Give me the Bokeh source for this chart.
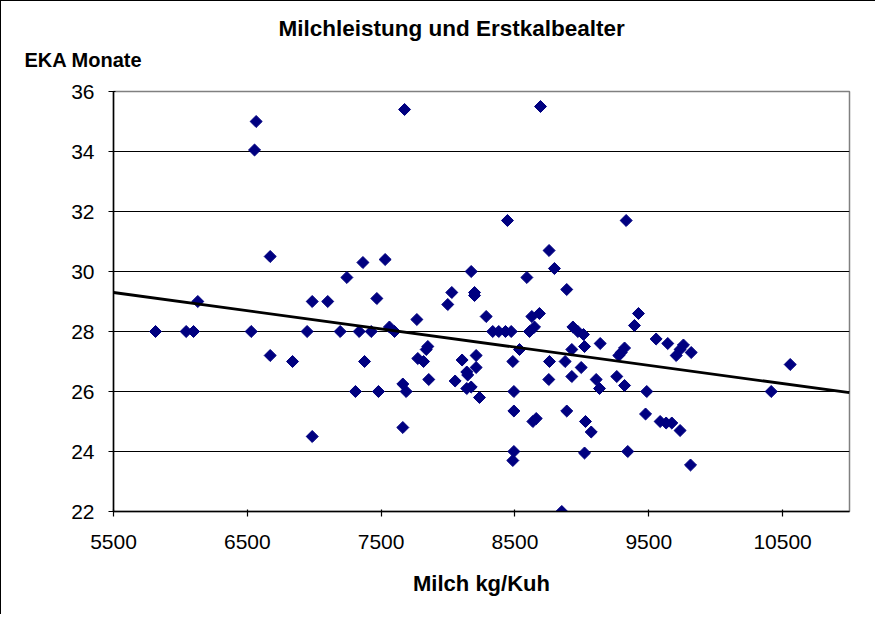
import numpy as np
from bokeh.plotting import figure
from bokeh.models import Range1d, Title, FixedTicker, ColumnDataSource
from bokeh.embed import file_html
from bokeh.resources import INLINE

# Milk yield (kg/cow) and age at first calving (months)
milch = [6566, 6554, 6671, 7244, 7364, 7675, 8691, 8444, 7530, 8173,
         8589, 8755, 8795, 8887, 9331, 6130, 5814, 6043, 6098, 6529,
         6947, 7194, 7336, 7426, 6671, 6838, 6985, 7101, 7376, 7308,
         6985, 7468, 7480, 7562, 7600, 7662, 7662, 7687, 7767, 7774,
         7817, 7837, 7849, 7856, 7998, 8028, 8053, 8105, 8140, 8147,
         8140, 8173, 8198, 8198, 8210, 8210, 8235, 8285, 8334, 8379,
         8429, 8472, 8484, 8492, 8492, 8492, 8484, 8534, 8609, 8646,
         8626, 8683, 8634, 8659, 8758, 8753, 8887, 8875, 8933, 8970,
         9012, 8925, 9020, 8995, 8925, 9137, 9107, 9132, 9027, 9070,
         9020, 9423, 9393, 9319, 9294, 9276, 9261, 9319, 9485, 9476,
         9343, 9555, 9642, 9759, 9734, 9705, 9817, 9585, 9630, 9672,
         9734, 9812, 10415, 10557, 8850]
eka = [35.0, 34.05, 30.5, 29.8, 30.3, 35.4, 35.5, 31.7, 30.4, 30.0,
       29.8, 30.7, 30.1, 29.4, 31.7, 29.0, 28.0, 28.0, 28.0, 28.0,
       28.0, 28.0, 28.0, 28.0, 27.2, 27.0, 29.0, 29.0, 27.0, 26.0,
       24.5, 29.1, 26.0, 28.15, 28.0, 24.8, 26.25, 26.0, 28.4, 27.1,
       27.0, 27.4, 27.5, 26.4, 28.9, 29.3, 26.35, 27.05, 26.65, 26.55,
       26.1, 26.15, 29.3, 29.2, 27.2, 26.8, 25.8, 28.5, 28.0, 28.0,
       28.0, 28.0, 27.0, 26.0, 25.35, 24.0, 23.7, 27.4, 28.0, 28.15,
       28.5, 28.6, 25.0, 25.1, 27.0, 26.4, 25.35, 27.0, 28.15, 28.0,
       27.9, 27.4, 27.5, 26.8, 26.5, 27.6, 26.4, 26.1, 25.0, 24.65,
       23.95, 28.6, 28.2, 27.45, 27.3, 27.2, 26.5, 26.2, 26.0, 25.25,
       24.0, 27.75, 27.6, 27.55, 27.4, 27.2, 27.3, 25.0, 24.95, 24.95,
       24.7, 23.55, 26.0, 26.9, 22.0]

# trend line as drawn in the chart (read at the two ends of the x range)
trend_x = [5500, 11000]
trend_y = [29.3, 25.96]

x_ticks = [5500, 6500, 7500, 8500, 9500, 10500]
y_ticks = [22, 24, 26, 28, 30, 32, 34, 36]
x_min, x_max = 5500, 11000
y_min, y_max = 22, 36

title_text = "Milchleistung und Erstkalbealter"
x_label = "Milch kg/Kuh"
y_label = "EKA Monate"

FONT = "Liberation Sans"

p = figure(width=875, height=614, output_backend="svg", toolbar_location=None,
           x_range=Range1d(x_min, x_max), y_range=Range1d(y_min, y_max),
           min_border_left=112, min_border_right=27, min_border_top=90,
           min_border_bottom=104)
p.styles = {"border-left": "1.5px solid black", "border-top": "1.5px solid black"}

p.background_fill_color = "white"
p.border_fill_color = "white"
p.outline_line_color = "#808080"
p.outline_line_width = 1.5

p.xgrid.grid_line_color = None
p.ygrid.grid_line_color = "black"
p.ygrid.grid_line_width = 1.2

for ax in (p.xaxis, p.yaxis):
    ax.axis_line_color = "black"
    ax.axis_line_width = 1.5
    ax.major_tick_line_color = "black"
    ax.major_tick_line_width = 1.2
    ax.major_tick_in = 2
    ax.major_tick_out = 5
    ax.minor_tick_line_color = None
    ax.major_label_text_font = FONT
    ax.major_label_text_font_size = "21px"
    ax.major_label_text_color = "black"

p.xaxis.ticker = FixedTicker(ticks=x_ticks)
p.yaxis.ticker = FixedTicker(ticks=y_ticks)
p.xaxis.major_label_standoff = 18
p.yaxis.major_label_standoff = 14

p.xaxis.axis_label = x_label
p.xaxis.axis_label_text_font = FONT
p.xaxis.axis_label_text_font_size = "22px"
p.xaxis.axis_label_text_font_style = "bold"
p.xaxis.axis_label_text_color = "black"
p.xaxis.axis_label_standoff = 19

src = ColumnDataSource(dict(x=milch, y=eka))
p.scatter("x", "y", source=src, marker="square", angle=np.pi / 4, size=8.5,
          fill_color="#000080", line_color="#000080")

p.line(trend_x, trend_y, line_color="black", line_width=2.8)

# main title (outermost)
p.title.text = title_text
p.title.align = "left"
p.title.offset = 165
p.title.standoff = -29
p.title.text_font = FONT
p.title.text_font_size = "22.5px"
p.title.text_font_style = "bold"
p.title.text_color = "black"

# y-axis caption, horizontal, just above the plot's top-left corner
p.add_layout(Title(text=y_label, align="left", offset=-89, standoff=41,
                   text_line_height=0.5,
                   text_font=FONT, text_font_size="20px", text_font_style="bold",
                   text_color="black"), "above")

open("out.html", "w").write(file_html(p, INLINE))
